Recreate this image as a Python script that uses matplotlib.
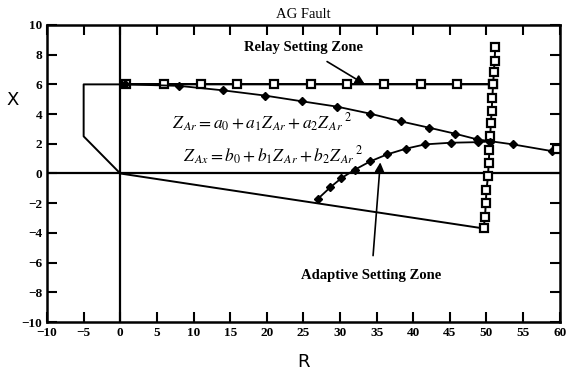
import numpy as np
import matplotlib.pyplot as plt

plt.rcParams['font.family'] = ['Liberation Serif', 'DejaVu Serif']
plt.rcParams['mathtext.fontset'] = 'stix'

### data
# relay setting zone outline (no markers)
relay_x = [51.0, -5.0, -5.0, 0.0, 49.6]
relay_y = [6.0, 6.0, 2.5, 0.0, -3.7]
# relay zone squares along the top reach
relay_top_x = [0.8, 6, 11, 16, 21, 26, 31, 36, 41, 46, 50.9]
relay_top_y = [6.0, 6.0, 6.0, 6.0, 6.0, 6.0, 6.0, 6.0, 6.0, 6.0, 6.0]
# relay zone squares along the right edge
relay_side_x = [51.2, 51.1, 51.0, 50.9, 50.8, 50.7, 50.6, 50.5, 50.4, 50.3, 50.2, 50.0, 49.9, 49.8, 49.6]
relay_side_y = [8.5, 7.6, 6.8, 6.0, 5.1, 4.2, 3.4, 2.5, 1.6, 0.7, -0.2, -1.1, -2.0, -2.9, -3.7]

# adaptive zone, upper curve (a coefficients)
upper_x = [0.6, 8.0, 14.0, 19.7, 24.8, 29.6, 34.1, 38.3, 42.1, 45.7, 48.7, 53.6, 58.9]
upper_y = [6.0, 5.9, 5.6, 5.25, 4.86, 4.5, 4.03, 3.51, 3.09, 2.68, 2.3, 1.96, 1.51]
end_x = [59.6]
end_y = [1.65]
# adaptive zone, lower curve (b coefficients)
lower_x = [27.0, 28.7, 30.2, 32.0, 34.1, 36.4, 39.0, 41.6, 45.1, 48.8, 50.5]
lower_y = [-1.7, -0.92, -0.31, 0.25, 0.81, 1.28, 1.67, 1.96, 2.07, 2.11, 2.15]

x_ticks = list(range(-10, 61, 5))
y_ticks = list(range(-10, 11, 2))

fig = plt.figure(figsize=(5.7, 3.76), dpi=100)
ax = fig.add_axes([0.0825, 0.1436, 0.8995, 0.79])

# axis lines through origin
ax.axhline(0, color='black', lw=1.6, zorder=1)
ax.axvline(0, color='black', lw=1.6, zorder=1)

ax.plot(relay_x, relay_y, color='black', lw=1.4)
ax.plot(relay_top_x, relay_top_y, color='black', lw=1.4, marker='s', ms=5.5,
        mfc='white', mec='black', mew=1.6)
ax.plot(relay_side_x, relay_side_y, color='black', lw=1.4, marker='s', ms=5.5,
        mfc='white', mec='black', mew=1.6)

ax.plot(upper_x, upper_y, color='black', lw=1.3, marker='D', ms=4.5, mfc='black')
ax.plot([upper_x[-1]] + end_x, [upper_y[-1]] + end_y, color='black', lw=1.3,
        marker='s', ms=5.5, mfc='white', mew=1.6, markevery=[1])
ax.plot(lower_x, lower_y, color='black', lw=1.3, marker='D', ms=4.5, mfc='black')

# annotations
ax.annotate('Relay Setting Zone', xy=(33.4, 6.0), xytext=(25.0, 8.5),
            ha='center', va='center', fontsize=10.5, fontweight='bold',
            arrowprops=dict(arrowstyle='-|>', color='black', lw=1.2,
                            mutation_scale=14, shrinkA=7, shrinkB=0))
ax.annotate('Adaptive Setting Zone', xy=(35.5, 0.75), xytext=(34.3, -6.9),
            ha='center', va='center', fontsize=10.5, fontweight='bold',
            arrowprops=dict(arrowstyle='-|>', color='black', lw=1.2,
                            mutation_scale=14, shrinkA=8, shrinkB=0))

ax.text(7.0, 3.4, r'$Z_{\,Ar} = a_0 + a_1Z_{\,Ar} + a_2Z_{\,Ar}\,{}^{2}$',
        fontsize=12.5, ha='left', va='center')
ax.text(8.6, 1.2, r'$Z_{\,Ax} = b_0 + b_1Z_{\,Ar} + b_2Z_{\,Ar}\,{}^{2}$',
        fontsize=12.5, ha='left', va='center')

ax.set_xlim(-10, 60)
ax.set_ylim(-10, 10)
ax.set_xticks(x_ticks)
ax.set_yticks(y_ticks)
ax.tick_params(direction='in', length=7, width=1.5, top=True, right=True,
               labelsize=9.5)
for lab in ax.get_xticklabels() + ax.get_yticklabels():
    lab.set_fontweight('bold')
for s in ax.spines.values():
    s.set_linewidth(1.8)

ax.set_title('AG Fault', fontsize=10.5, pad=5)
ax.set_xlabel('R', fontsize=13, family='DejaVu Sans', labelpad=10)
fig.text(13 / 570, 1 - 100 / 376, 'X', fontsize=13, family='DejaVu Sans',
         ha='center', va='center')

fig.savefig('out.png', dpi=100)
